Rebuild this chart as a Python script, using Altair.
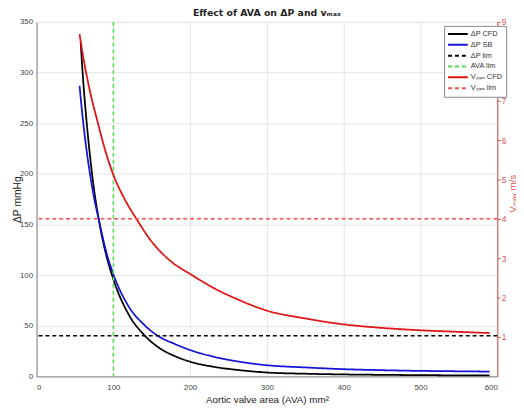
import altair as alt
import pandas as pd

# ---------------- data ----------------
series_names = ["ΔP CFD", "ΔP SB", "ΔP lim", "AVA lim", "Vₘₐₓ CFD", "Vₘₐₓ lim"]
series_colors = ["#000000", "#1414d8", "#000000", "#4fe04f", "#e01414", "#f05050"]
series_dashes = [[1, 0], [1, 0], [4, 3], [4, 3], [1, 0], [4, 3]]

ava_cfd = [57.5, 60, 65, 70, 75, 81, 90, 100, 120, 140, 160, 180, 200, 230, 260, 300, 350, 400, 450, 500, 550, 590]
dp_cfd = [330, 300, 253, 215, 184, 155, 122, 96, 61, 41, 28, 20, 14.5, 9.5, 6.5, 3.8, 2.6, 1.9, 1.5, 1.2, 1.0, 0.9]

ava_sb = [56, 60, 65, 70, 75, 81, 90, 100, 120, 140, 158, 180, 200, 230, 260, 300, 350, 400, 450, 500, 550, 590]
dp_sb = [287, 256, 224, 198, 176, 155, 125, 101, 69, 51, 40, 32, 26, 19.5, 15, 11, 8.8, 7.1, 6.1, 5.4, 5.0, 4.7]

ava_v = [56, 60, 70, 79, 90, 100, 115, 130, 150, 175, 200, 230, 260, 300, 350, 400, 450, 500, 550, 590]
v_cfd = [8.69, 8.2, 7.2, 6.5, 5.7, 5.12, 4.49, 4.0, 3.42, 2.92, 2.6, 2.25, 1.97, 1.67, 1.47, 1.32, 1.23, 1.17, 1.13, 1.10]

dp_lim = [40]
ava_lim = [100]
v_lim = [4]

x_ticks = [0, 100, 200, 300, 400, 500, 600]
dp_ticks = [0, 50, 100, 150, 200, 250, 300, 350]
v_ticks = [1, 2, 3, 4, 5, 6, 7, 8, 9]

# ---------------- tables ----------------
df_dp = pd.concat([
    pd.DataFrame({"ava": ava_cfd, "dp": dp_cfd, "series": "ΔP CFD"}),
    pd.DataFrame({"ava": ava_sb, "dp": dp_sb, "series": "ΔP SB"}),
])
df_v = pd.DataFrame({"ava": ava_v, "v": v_cfd, "series": "Vₘₐₓ CFD"})
df_dp_lim = pd.DataFrame({"dp": dp_lim, "series": ["ΔP lim"]})
df_ava_lim = pd.DataFrame({"ava": ava_lim, "series": ["AVA lim"]})
df_v_lim = pd.DataFrame({"v": v_lim, "series": ["Vₘₐₓ lim"]})

FONT = "Liberation Sans"
RED_AXIS = "#d9534f"

color_scale = alt.Scale(domain=series_names, range=series_colors)
dash_scale = alt.Scale(domain=series_names, range=series_dashes)

legend = alt.Legend(
    title=None, orient="none", legendX=414, legendY=4,
    symbolType="stroke", symbolSize=400, symbolStrokeWidth=2,
    clipHeight=10.5, rowPadding=0, labelFontSize=7.5, labelFont=FONT,
    labelColor="#333333", labelOffset=2, padding=3,
    strokeColor="#888888", fillColor="white",
)

x_enc = alt.X(
    "ava:Q", scale=alt.Scale(domain=[0, 600], nice=False),
    axis=alt.Axis(values=x_ticks, title="Aortic valve area (AVA)  mm²",
                  labelFontSize=8, labelColor="#444444", labelFont=FONT,
                  titleFont=FONT, titleFontSize=10, titleFontWeight="normal",
                  titleColor="#222222", ticks=False, labelPadding=7,
                  titlePadding=4, domainColor="#888888", gridColor="#e4e4e4"),
)
dp_axis = alt.Axis(values=dp_ticks, title="ΔP  mmHg", labelFontSize=8,
                   labelColor="#444444", labelFont=FONT, titleFont=FONT,
                   titleFontSize=10.5, titleFontWeight="normal", titleColor="#222222",
                   ticks=False, labelPadding=4, titleX=-14,
                   domainColor="#888888", gridColor="#e4e4e4")
y_dp = alt.Y("dp:Q", scale=alt.Scale(domain=[0, 350], nice=False), axis=dp_axis)

v_axis = alt.Axis(orient="right", values=v_ticks, title="Vₘₐₓ  m/s",
                  titleAngle=270, labelFontSize=8.5, labelColor=RED_AXIS,
                  labelFont=FONT, titleFont=FONT, titleFontSize=10,
                  titleFontWeight="normal", titleColor=RED_AXIS,
                  domainColor=RED_AXIS, tickColor=RED_AXIS, tickSize=3,
                  labelPadding=1, titleX=20, titleY=174, grid=False)
y_v = alt.Y("v:Q", scale=alt.Scale(domain=[0, 9], nice=False), axis=v_axis)

col = alt.Color("series:N", scale=color_scale, legend=legend)
dash = alt.StrokeDash("series:N", scale=dash_scale, legend=legend)

dp_lines = alt.Chart(df_dp).mark_line(strokeWidth=1.8, interpolate="monotone").encode(
    x=x_enc, y=y_dp, color=col, strokeDash=dash)
dp_rule = alt.Chart(df_dp_lim).mark_rule(strokeWidth=1.5).encode(
    y=y_dp, color=col, strokeDash=dash)
ava_rule = alt.Chart(df_ava_lim).mark_rule(strokeWidth=1.5).encode(
    x=x_enc, color=col, strokeDash=dash)

v_line = alt.Chart(df_v).mark_line(strokeWidth=1.8, interpolate="monotone").encode(
    x=x_enc, y=y_v, color=col, strokeDash=dash)
v_rule = alt.Chart(df_v_lim).mark_rule(strokeWidth=1.5).encode(
    y=y_v, color=col, strokeDash=dash)

left = alt.layer(dp_lines, dp_rule, ava_rule)
right = alt.layer(v_line, v_rule)

chart = alt.layer(left, right).resolve_scale(y="independent").properties(
    width=468, height=360,
    autosize=alt.AutoSizeParams(type="none"),
    padding={"left": 29, "top": 11, "right": 19, "bottom": 30},
    title=alt.TitleParams("Effect of AVA on ΔP and vₘₐₓ", fontSize=9.5,
                          fontWeight="bold", font="DejaVu Sans", color="#222222",
                          anchor="middle", offset=1),
).configure_view(stroke="#999999").configure(background="white")

chart.save("out.html", embed_options={"renderer": "svg", "actions": False})
